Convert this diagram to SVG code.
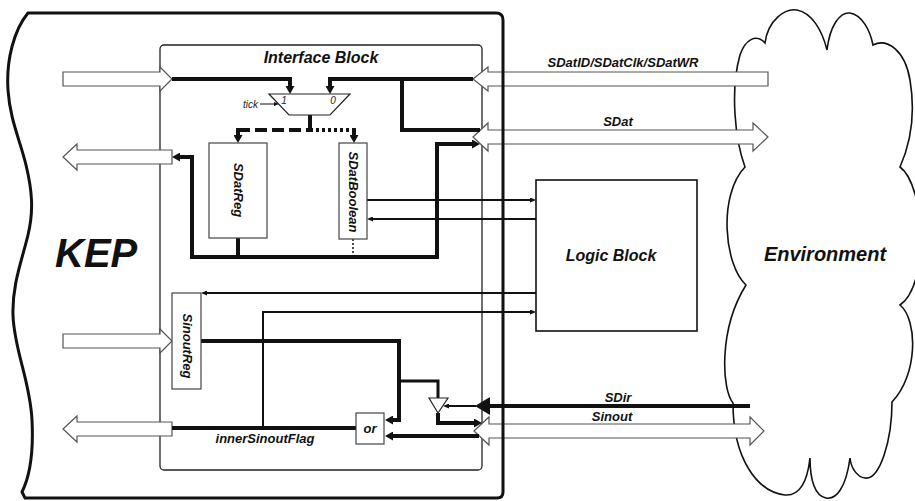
<svg xmlns="http://www.w3.org/2000/svg" width="915" height="501" viewBox="0 0 915 501">
<style>
.lbl{font-family:"Liberation Sans",Arial,sans-serif;font-weight:bold;font-style:italic;fill:#111}
.sm{font-family:"Liberation Sans",Arial,sans-serif;font-style:italic;fill:#222;font-size:10px}
.box{fill:#fff;stroke:#444;stroke-width:1.2}
.blk{fill:#fff;stroke:#555;stroke-width:1.2}
.thk{fill:none;stroke:#111;stroke-width:4}
.thn{fill:none;stroke:#111;stroke-width:2}
.out{fill:none;stroke:#111}
</style>
<defs>
<marker id="aT" markerUnits="userSpaceOnUse" markerWidth="8" markerHeight="9" viewBox="0 0 8 9" refX="0" refY="4.5" orient="auto"><path d="M0,0 L8,4.5 L0,9 Z" fill="#111"/></marker>
<marker id="aS" markerUnits="userSpaceOnUse" markerWidth="6" markerHeight="5" viewBox="0 0 6 5" refX="0" refY="2.5" orient="auto"><path d="M0,0 L6,2.5 L0,5 Z" fill="#111"/></marker>
<marker id="aX" markerUnits="userSpaceOnUse" markerWidth="5" markerHeight="4" viewBox="0 0 5 4" refX="0" refY="2" orient="auto"><path d="M0,0 L5,2 L0,4 Z" fill="#111"/></marker>
</defs>
<rect width="915" height="501" fill="#fff"/>

<g id="environment">
<path class="out" stroke-width="1.6" d="M 745 167 C 735 140, 730 90, 740 55 C 745 40, 756 33, 765 43 C 768 20, 785 8, 797 10 C 812 13, 822 30, 827 50 C 830 25, 840 12, 850 13 C 862 15, 870 30, 873 45 C 887 38, 905 50, 910 80 C 915 110, 912 140, 900 167 C 925 185, 930 285, 900 305 C 918 320, 918 375, 892 402 C 892 440, 880 480, 865 478 C 857 477, 851 468, 850 458 C 846 488, 836 500, 826 498 C 815 496, 810 480, 810 458 C 807 485, 798 496, 785 495 C 758 492, 733 460, 733 403 C 722 390, 718 330, 746 285 C 724 265, 718 195, 745 167 Z"/>
<text class="lbl" x="825" y="261" font-size="20" text-anchor="middle">Environment</text>
</g>

<g id="interface-block">
<rect x="160" y="45" width="322" height="425" rx="4" fill="none" stroke="#222" stroke-width="1.3"/>
<text class="lbl" x="321" y="63" font-size="16" text-anchor="middle">Interface Block</text>
</g>

<g id="connectors">
<!-- KEP side block arrows -->
<polygon class="blk" points="63,72 160,72 160,67 172,79 160,91 160,86 63,86"/>
<polygon class="blk" points="172,150 77,150 77,144 63,157 77,170 77,164 172,164"/>
<polygon class="blk" points="63,334 160,334 160,329 172,341 160,353 160,348 63,348"/>
<polygon class="blk" points="172,422 77,422 77,416 63,429 77,442 77,436 172,436"/>
<!-- Environment side block arrows -->
<polygon class="blk" points="473,79 488,67 488,72 768,72 768,86 488,86 488,91"/>
<polygon class="blk" points="473,137 488,123 488,130 753,130 753,123 768,137 753,151 753,144 488,144 488,151"/>
<polygon class="blk" points="474,431 489,417 489,424 750,424 750,417 764,431 750,445 750,438 489,438 489,445"/>
<text class="lbl" x="623" y="67" font-size="13" text-anchor="middle">SDatID/SDatClk/SDatWR</text>
<text class="lbl" x="618" y="126" font-size="13" text-anchor="middle">SDat</text>
<text class="lbl" x="618" y="402" font-size="13" text-anchor="middle">SDir</text>
<text class="lbl" x="612" y="421" font-size="13" text-anchor="middle">Sinout</text>

<!-- mux inputs -->
<path class="thk" d="M172,79 H290 V86" marker-end="url(#aT)"/>
<path class="thk" d="M473,79 H330 V86" marker-end="url(#aT)"/>
<path class="thk" d="M402,79 V130 H480"/>
<!-- tick -->
<path fill="none" stroke="#111" stroke-width="1" d="M260,104 H274" marker-end="url(#aX)"/>
<!-- mux output -->
<path class="thk" d="M310,115 V130"/>
<path class="thk" stroke-dasharray="12,5" d="M238,130 H310"/>
<path class="thk" stroke-dasharray="3,3" d="M310,130 H354"/>
<path class="thk" d="M238,128 V135" marker-end="url(#aT)"/>
<path class="thk" d="M354,128 V135" marker-end="url(#aT)"/>
<!-- SDatReg loop -->
<path class="thk" d="M238,238 V257"/>
<path class="thk" d="M192,257 V157 H180" marker-end="url(#aT)"/>
<path class="thk" d="M190,257 H437 V144 H472" marker-end="url(#aT)"/>
<path fill="none" stroke="#111" stroke-width="1.5" stroke-dasharray="2,2" d="M353,239 V257"/>
<!-- SDatBoolean <-> Logic -->
<path class="thn" d="M367,200 H530" marker-end="url(#aS)"/>
<path class="thn" d="M536,219 H373" marker-end="url(#aS)"/>
<!-- Logic <-> Sinout -->
<path class="thn" d="M536,293 H207" marker-end="url(#aS)"/>
<path class="thn" d="M263,428 V312 H530" marker-end="url(#aS)"/>
<!-- SinoutReg output -->
<path class="thk" d="M201,341 H399 V420 H393" marker-end="url(#aT)"/>
<path fill="none" stroke="#111" stroke-width="3" d="M399,381 H438 V398"/>
<path class="thk" d="M438,413 V423 H474" marker-end="url(#aT)"/>
<path class="thn" d="M476,406 H449" marker-end="url(#aS)"/>
<!-- SDir -->
<polygon points="475,406 490,397 490,415" fill="#111"/>
<path class="thk" d="M489,406 H750"/>
<!-- or in / out -->
<path class="thk" d="M479,436 H393" marker-end="url(#aT)"/>
<path class="thk" d="M356,428 H172"/>
<text class="lbl" x="265" y="443" font-size="13" text-anchor="middle">innerSinoutFlag</text>
</g>

<g id="kep">
<path class="out" stroke-width="3" d="M 28 13 L 496 13 Q 503 13 503 20 L 503 492 Q 503 498 497 498 L 25 498 L 22 492 C 28 480, 34 460, 32 420 C 30 380, 14 350, 13 315 C 12 285, 22 260, 28 235 C 34 210, 32 190, 26 165 C 20 140, 10 120, 8 90 C 6 60, 14 30, 28 13 Z"/>
<text class="lbl" x="55" y="267" font-size="40">KEP</text>
</g>

<g id="mux">
<polygon points="269,94 350,94 330,115 289,115" fill="#fff" stroke="#222" stroke-width="1.2"/>
<text class="sm" x="284" y="104" text-anchor="middle">1</text>
<text class="sm" x="333" y="104" text-anchor="middle">0</text>
<text class="sm" x="243" y="108">tick</text>
</g>

<g id="sdatreg">
<rect class="box" x="209" y="143" width="58" height="95"/>
<text class="lbl" font-size="13" text-anchor="middle" dominant-baseline="central" transform="translate(238,190) rotate(90)">SDatReg</text>
</g>

<g id="sdatboolean">
<rect class="box" x="339" y="143" width="28" height="96"/>
<text class="lbl" font-size="13" text-anchor="middle" dominant-baseline="central" transform="translate(353,192) rotate(90)">SDatBoolean</text>
</g>

<g id="logic-block">
<rect x="536" y="180" width="161" height="151" fill="#fff" stroke="#111" stroke-width="1.6"/>
<text class="lbl" x="611" y="261" font-size="16" text-anchor="middle">Logic Block</text>
</g>

<g id="sinoutreg">
<rect class="box" x="172" y="293" width="29" height="96"/>
<text class="lbl" font-size="13" text-anchor="middle" dominant-baseline="central" transform="translate(187,346) rotate(90)">SinoutReg</text>
</g>

<g id="or-gate">
<rect class="box" x="356" y="413" width="28" height="31"/>
<text class="lbl" x="370" y="433" font-size="13" text-anchor="middle">or</text>
</g>

<g id="tristate-buffer">
<polygon points="429,398 448,398 438,413" fill="#fff" stroke="#222" stroke-width="1.2"/>
</g>
</svg>
